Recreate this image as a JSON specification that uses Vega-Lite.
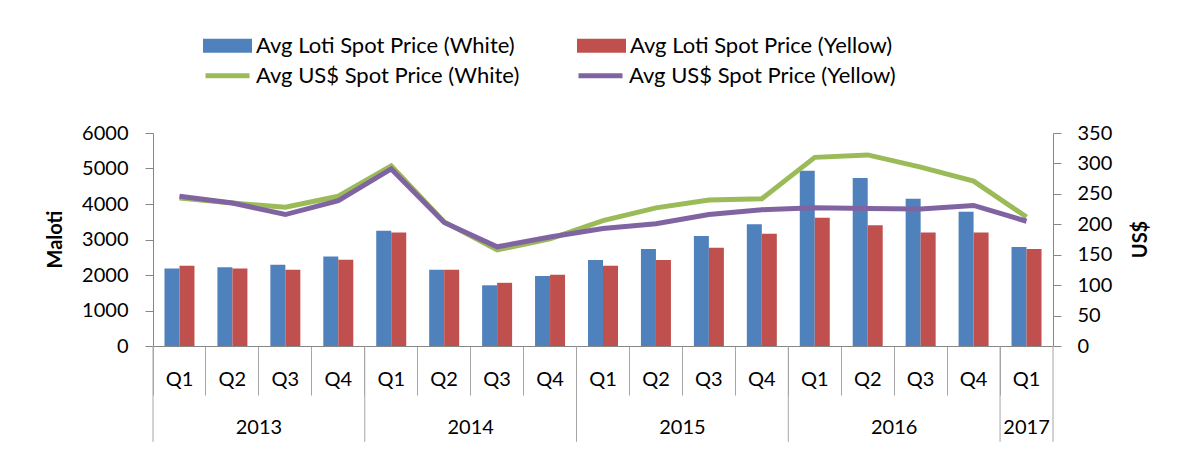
{
  "$schema": "https://vega.github.io/schema/vega-lite/v6.json",
  "width": 900,
  "height": 213,
  "autosize": {"type": "none"},
  "padding": {"left": 153, "top": 133, "right": 125, "bottom": 104},
  "background": "white",
  "config": {
    "view": {"stroke": null},
    "font": "Lato",
    "numberFormat": "d",
    "axis": {
      "grid": false,
      "domainColor": "#868686",
      "tickColor": "#868686",
      "labelColor": "#000000",
      "labelFont": "Lato",
      "labelFontSize": 20,
      "labelOverlap": false,
      "titleFont": "Lato",
      "titleFontSize": 20,
      "titleColor": "#000000",
      "titleFontWeight": "bold"
    },
    "legend": {"labelFont": "Lato", "labelFontSize": 22, "labelColor": "#000000", "labelLimit": 500}
  },
  "datasets": {
    "prices": [
      {"period": "2013 Q1", "loti_white": 2180, "loti_yellow": 2260, "usd_white": 243, "usd_yellow": 246},
      {"period": "2013 Q2", "loti_white": 2220, "loti_yellow": 2180, "usd_white": 235, "usd_yellow": 235},
      {"period": "2013 Q3", "loti_white": 2290, "loti_yellow": 2150, "usd_white": 228, "usd_yellow": 216},
      {"period": "2013 Q4", "loti_white": 2520, "loti_yellow": 2430, "usd_white": 246, "usd_yellow": 239},
      {"period": "2014 Q1", "loti_white": 3250, "loti_yellow": 3200, "usd_white": 296, "usd_yellow": 291},
      {"period": "2014 Q2", "loti_white": 2150, "loti_yellow": 2150, "usd_white": 204, "usd_yellow": 203},
      {"period": "2014 Q3", "loti_white": 1710, "loti_yellow": 1780, "usd_white": 158, "usd_yellow": 163},
      {"period": "2014 Q4", "loti_white": 1975, "loti_yellow": 2010, "usd_white": 176, "usd_yellow": 179},
      {"period": "2015 Q1", "loti_white": 2420, "loti_yellow": 2260, "usd_white": 206, "usd_yellow": 193},
      {"period": "2015 Q2", "loti_white": 2730, "loti_yellow": 2420, "usd_white": 227, "usd_yellow": 201},
      {"period": "2015 Q3", "loti_white": 3100, "loti_yellow": 2770, "usd_white": 240, "usd_yellow": 216},
      {"period": "2015 Q4", "loti_white": 3430, "loti_yellow": 3160, "usd_white": 242, "usd_yellow": 224},
      {"period": "2016 Q1", "loti_white": 4940, "loti_yellow": 3610, "usd_white": 310, "usd_yellow": 227},
      {"period": "2016 Q2", "loti_white": 4730, "loti_yellow": 3400, "usd_white": 314, "usd_yellow": 226},
      {"period": "2016 Q3", "loti_white": 4150, "loti_yellow": 3200, "usd_white": 294, "usd_yellow": 225},
      {"period": "2016 Q4", "loti_white": 3780, "loti_yellow": 3200, "usd_white": 271, "usd_yellow": 231},
      {"period": "2017 Q1", "loti_white": 2790, "loti_yellow": 2730, "usd_white": 212, "usd_yellow": 205}
    ],
    "yearStarts": [
      {"period": "2013 Q1"}, {"period": "2014 Q1"}, {"period": "2015 Q1"}, {"period": "2016 Q1"}, {"period": "2017 Q1"}
    ],
    "yearEnd": [{"period": "2017 Q1"}],
    "yearLabels": [
      {"period": "2013 Q2", "year": "2013"},
      {"period": "2014 Q2", "year": "2014"},
      {"period": "2015 Q2", "year": "2015"},
      {"period": "2016 Q2", "year": "2016"}
    ],
    "lastYearLabel": [{"period": "2017 Q1", "year": "2017"}]
  },
  "layer": [
    {
      "layer": [
        {
          "data": {"name": "prices"},
          "transform": [{"fold": ["loti_white", "loti_yellow"], "as": ["series", "value"]}],
          "mark": {"type": "bar"},
          "encoding": {
            "x": {
              "field": "period", "type": "ordinal",
              "scale": {"paddingInner": 0, "paddingOuter": 0},
              "axis": {"title": null, "labelExpr": "slice(datum.value, 5)", "labelAngle": 0, "bandPosition": 0, "tickSize": 49, "tickColor": "#a6a6a6", "labelPadding": -16, "labelBaseline": "middle"}
            },
            "xOffset": {
              "field": "series", "type": "nominal",
              "scale": {"domain": ["loti_white", "loti_yellow"], "paddingInner": 0, "paddingOuter": 0.765}
            },
            "y": {
              "field": "value", "type": "quantitative",
              "scale": {"domain": [0, 6000], "nice": false},
              "axis": {"title": "Maloti", "format": "d", "values": [0, 1000, 2000, 3000, 4000, 5000, 6000], "tickCount": 7, "labelOverlap": false, "tickSize": 8, "labelPadding": 17, "titleX": -98, "titleY": 106, "titleAngle": 270, "titleAlign": "center", "titleBaseline": "middle"}
            },
            "fill": {
              "field": "series", "type": "nominal",
              "scale": {"domain": ["loti_white", "loti_yellow"], "range": ["#4F81BD", "#C0504D"]},
              "legend": {
                "title": null,
                "orient": "none",
                "legendX": 50,
                "legendY": -112,
                "direction": "horizontal",
                "columns": 2,
                "columnPadding": 62,
                "symbolType": "M-1,-0.29H1V0.29H-1Z",
                "symbolSize": 2401,
                "symbolStrokeWidth": 0,
                "labelOffset": 4,
                "labelExpr": "datum.value == 'loti_white' ? 'Avg Loti Spot Price (White)' : 'Avg Loti Spot Price (Yellow)'"
              }
            }
          }
        },
        {
          "data": {"name": "yearStarts"},
          "mark": {"type": "rule", "color": "#a6a6a6", "strokeWidth": 1},
          "encoding": {
            "x": {"field": "period", "type": "ordinal", "bandPosition": 0,
              "axis": {"title": null, "labelExpr": "slice(datum.value, 5)", "labelAngle": 0, "bandPosition": 0, "tickSize": 49, "tickColor": "#a6a6a6", "labelPadding": -16, "labelBaseline": "middle"}},
            "y": {"datum": 0, "type": "quantitative", "scale": {"domain": [0, 6000], "nice": false},
              "axis": {"title": "Maloti", "format": "d", "values": [0, 1000, 2000, 3000, 4000, 5000, 6000], "tickCount": 7, "labelOverlap": false, "tickSize": 8, "labelPadding": 17, "titleX": -98, "titleY": 106, "titleAngle": 270, "titleAlign": "center", "titleBaseline": "middle"}},
            "y2": {"datum": -2700}
          }
        },
        {
          "data": {"name": "yearEnd"},
          "mark": {"type": "rule", "color": "#a6a6a6", "strokeWidth": 1},
          "encoding": {
            "x": {"field": "period", "type": "ordinal", "bandPosition": 1,
              "axis": {"title": null, "labelExpr": "slice(datum.value, 5)", "labelAngle": 0, "bandPosition": 0, "tickSize": 49, "tickColor": "#a6a6a6", "labelPadding": -16, "labelBaseline": "middle"}},
            "y": {"datum": 0, "type": "quantitative", "scale": {"domain": [0, 6000], "nice": false},
              "axis": {"title": "Maloti", "format": "d", "values": [0, 1000, 2000, 3000, 4000, 5000, 6000], "tickCount": 7, "labelOverlap": false, "tickSize": 8, "labelPadding": 17, "titleX": -98, "titleY": 106, "titleAngle": 270, "titleAlign": "center", "titleBaseline": "middle"}},
            "y2": {"datum": -2700}
          }
        },
        {
          "data": {"name": "yearLabels"},
          "mark": {"type": "text", "fontSize": 20, "font": "Lato", "color": "#000000", "baseline": "middle", "align": "center"},
          "encoding": {
            "x": {"field": "period", "type": "ordinal", "bandPosition": 1,
              "axis": {"title": null, "labelExpr": "slice(datum.value, 5)", "labelAngle": 0, "bandPosition": 0, "tickSize": 49, "tickColor": "#a6a6a6", "labelPadding": -16, "labelBaseline": "middle"}},
            "y": {"datum": -2306, "type": "quantitative", "scale": {"domain": [0, 6000], "nice": false},
              "axis": {"title": "Maloti", "format": "d", "values": [0, 1000, 2000, 3000, 4000, 5000, 6000], "tickCount": 7, "labelOverlap": false, "tickSize": 8, "labelPadding": 17, "titleX": -98, "titleY": 106, "titleAngle": 270, "titleAlign": "center", "titleBaseline": "middle"}},
            "text": {"field": "year"}
          }
        },
        {
          "data": {"name": "lastYearLabel"},
          "mark": {"type": "text", "fontSize": 20, "font": "Lato", "color": "#000000", "baseline": "middle", "align": "center"},
          "encoding": {
            "x": {"field": "period", "type": "ordinal", "bandPosition": 0.5,
              "axis": {"title": null, "labelExpr": "slice(datum.value, 5)", "labelAngle": 0, "bandPosition": 0, "tickSize": 49, "tickColor": "#a6a6a6", "labelPadding": -16, "labelBaseline": "middle"}},
            "y": {"datum": -2306, "type": "quantitative", "scale": {"domain": [0, 6000], "nice": false},
              "axis": {"title": "Maloti", "format": "d", "values": [0, 1000, 2000, 3000, 4000, 5000, 6000], "tickCount": 7, "labelOverlap": false, "tickSize": 8, "labelPadding": 17, "titleX": -98, "titleY": 106, "titleAngle": 270, "titleAlign": "center", "titleBaseline": "middle"}},
            "text": {"field": "year"}
          }
        }
      ]
    },
    {
      "data": {"name": "prices"},
      "transform": [{"fold": ["usd_white", "usd_yellow"], "as": ["series", "value"]}],
      "mark": {"type": "line", "strokeWidth": 5},
      "encoding": {
        "x": {"field": "period", "type": "ordinal",
          "axis": {"title": null, "labelExpr": "slice(datum.value, 5)", "labelAngle": 0, "bandPosition": 0, "tickSize": 49, "tickColor": "#a6a6a6", "labelPadding": -16, "labelBaseline": "middle"}},
        "y": {
          "field": "value", "type": "quantitative",
          "scale": {"domain": [0, 350], "nice": false},
          "axis": {
            "orient": "right",
            "title": "US$",
            "titleX": 87,
            "titleY": 106,
            "titleAngle": 270,
            "titleAlign": "center",
            "titleBaseline": "middle",
            "values": [0, 50, 100, 150, 200, 250, 300, 350],
            "labelOverlap": false,
            "tickSize": 8,
            "labelPadding": 16
          }
        },
        "stroke": {
          "field": "series", "type": "nominal",
          "scale": {"domain": ["usd_white", "usd_yellow"], "range": ["#9BBB59", "#8064A2"]},
          "legend": {
            "title": null,
            "orient": "none",
            "legendX": 50,
            "legendY": -82,
            "direction": "horizontal",
            "columns": 2,
            "columnPadding": 48,
            "symbolType": "stroke",
            "symbolSize": 1936,
            "symbolStrokeWidth": 5,
            "labelOffset": 4,
            "labelExpr": "datum.value == 'usd_white' ? 'Avg US$ Spot Price (White)' : 'Avg US$ Spot Price (Yellow)'"
          }
        }
      }
    }
  ],
  "resolve": {"scale": {"y": "independent"}}
}
